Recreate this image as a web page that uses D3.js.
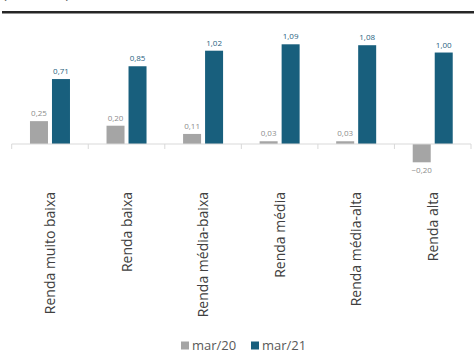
<!DOCTYPE html>
<html>
<head>
<meta charset="utf-8">
<script src="https://cdn.jsdelivr.net/npm/d3@7"></script>
<style>
  body { margin: 0; background: #fff; }
  svg { display: block; font-family: "Open Sans", "Noto Sans", sans-serif; }
</style>
</head>
<body>
<div id="chart"></div>
<script>
// DATA
const categories = ["Renda muito baixa", "Renda baixa", "Renda média-baixa", "Renda média", "Renda média-alta", "Renda alta"];
const seriesNames = ["mar/20", "mar/21"];
const mar20 = [0.25, 0.20, 0.11, 0.03, 0.03, -0.20];
const mar21 = [0.71, 0.85, 1.02, 1.09, 1.08, 1.00];
const colors = ["#a5a5a5", "#185f7d"];
const labelColors = ["#8c8c8c", "#1f5f80"];

const width = 474, height = 356;

const svg = d3.select("#chart").append("svg")
  .attr("width", width)
  .attr("height", height);

// title, mostly above the top edge as in the source image
svg.append("text")
  .attr("x", 3)
  .attr("y", -1)
  .attr("font-size", "13px")
  .attr("fill", "#595959")
  .text("(em índice)");

// heavy rule
svg.append("line")
  .attr("x1", 2).attr("x2", width)
  .attr("y1", 12.3).attr("y2", 12.3)
  .attr("stroke", "#262626")
  .attr("stroke-width", 2.6);

// SCALES
const x = d3.scaleBand()
  .domain(categories)
  .range([11.7, 471])
  .padding(0);

const y = d3.scaleLinear()
  .domain([-0.2, 1.09])
  .range([162.3, 44.3]);

const groups = seriesNames.map((s, i) => ({name: s, values: i === 0 ? mar20 : mar21}));
const barW = 18, gap = 4;

// BARS
groups.forEach((g, si) => {
  const off = si === 0 ? -gap / 2 - barW : gap / 2;
  svg.append("g").selectAll("rect")
    .data(g.values)
    .join("rect")
    .attr("x", (d, i) => x(categories[i]) + x.bandwidth() / 2 + off)
    .attr("y", d => y(Math.max(0, d)))
    .attr("width", barW)
    .attr("height", d => Math.abs(y(d) - y(0)))
    .attr("fill", colors[si]);

  svg.append("g").selectAll("text")
    .data(g.values)
    .join("text")
    .attr("x", (d, i) => x(categories[i]) + x.bandwidth() / 2 + off + barW / 2)
    .attr("y", d => d >= 0 ? y(d) - 5 : y(d) + 11)
    .attr("text-anchor", "middle")
    .attr("font-size", "8px")
    .attr("fill", labelColors[si])
    .text(d => d3.format(".2f")(d).replace(".", ","));
});

// AXIS
const axis = svg.append("g")
  .attr("transform", `translate(0,${y(0)})`);
axis.append("line")
  .attr("x1", x.range()[0]).attr("x2", x.range()[1])
  .attr("stroke", "#d9d9d9");
axis.selectAll("line.tick")
  .data(categories.map(c => x(c)).concat([x.range()[1]]))
  .join("line")
  .attr("class", "tick")
  .attr("x1", d => d).attr("x2", d => d)
  .attr("y1", 0).attr("y2", 5)
  .attr("stroke", "#d9d9d9");

// category labels
svg.append("g").selectAll("text")
  .data(categories)
  .join("text")
  .attr("transform", d => `translate(${x(d) + x.bandwidth() / 2 + 5},192) rotate(-90)`)
  .attr("text-anchor", "end")
  .attr("font-size", "14px")
  .attr("fill", "#404040")
  .text(d => d);

// LEGEND
const legend = svg.append("g").attr("transform", "translate(181,341.5)");
const legX = [0, 70];
seriesNames.forEach((s, i) => {
  legend.append("rect")
    .attr("x", legX[i]).attr("y", 0)
    .attr("width", 8).attr("height", 8)
    .attr("fill", colors[i]);
  legend.append("text")
    .attr("x", legX[i] + 11).attr("y", 8.5)
    .attr("font-size", "13px")
    .attr("fill", "#595959")
    .text(s);
});
</script>
</body>
</html>
